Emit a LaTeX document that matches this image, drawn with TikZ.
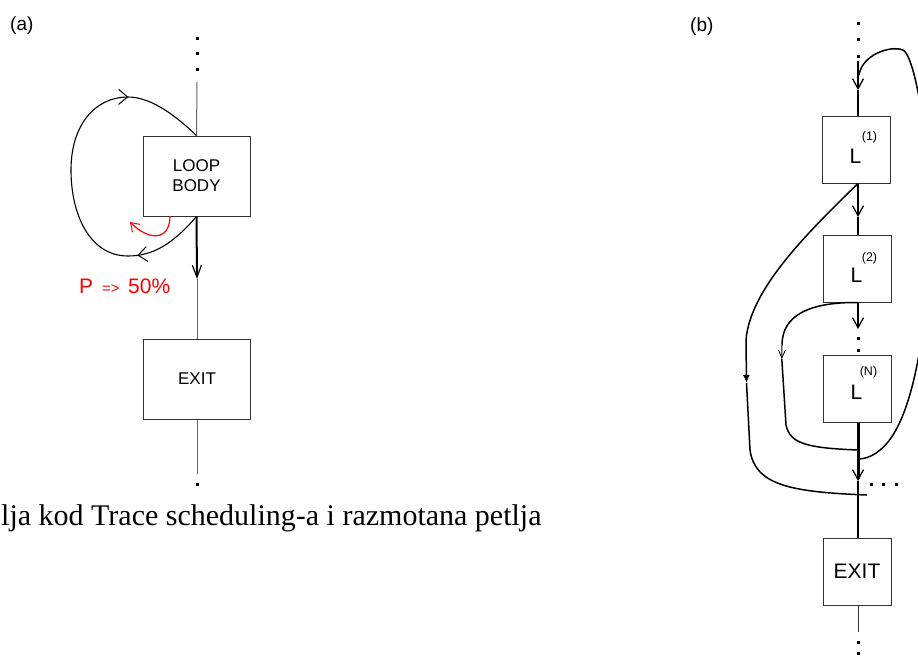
\documentclass[tikz,border=0pt]{standalone}
\usepackage{fontspec}
\setmainfont{Liberation Sans}
\newfontfamily\capfont{Liberation Serif}
\usetikzlibrary{arrows.meta,decorations.markings}

\begin{document}
\begin{tikzpicture}[x=1pt,y=-1pt,
  bigbox/.style={draw=black!80,line width=1pt,minimum width=107pt,minimum height=80pt,
    inner sep=0pt,align=center,font=\fontsize{17}{20}\selectfont},
  ubox/.style={draw=black!80,line width=1pt,minimum width=68pt,minimum height=67pt,inner sep=0pt},
  lname/.style={inner sep=0pt,font=\fontsize{21}{21}\selectfont},
  lsup/.style={inner sep=0pt,font=\fontsize{12.5}{12.5}\selectfont},
  dotmark/.style={fill=black,draw=none,minimum size=3pt,inner sep=0pt,rectangle},
  thinflow/.style={draw=black!60,line width=1pt},
  flowb/.style={draw=black,line width=1.5pt},
  heavy/.style={draw=black,line width=2.5pt},
  barb/.style={-{Straight Barb[length=10pt,width=11pt,line width=1.3pt]}},
  smallbarb/.style={-{Straight Barb[length=8pt,width=7pt,line width=0.8pt]}},
  panel/.style={inner sep=0pt,anchor=base west,font=\fontsize{19}{19}\selectfont},
]
\clip (0,0) rectangle (918,662);

% ---------------- (a) loop with a single body ----------------
\node[panel] (taga) at (10,30) {(a)};

\node[dotmark] (a1) at (197,38) {};
\node[dotmark] (a2) at (197,53) {};
\node[dotmark] (a3) at (197,69) {};
\coordinate (atop) at (197,82);

\node[bigbox] (body) at (196.5,176) {LOOP\\BODY};
\node[bigbox] (exita) at (197,379) {EXIT};

\coordinate (aarr) at (197,279);
\coordinate (aend) at (197,474);
\node[dotmark] (a4) at (197,484) {};

\draw[thinflow] (atop) -- (body.north);
\draw[draw=black,line width=2pt,-{Straight Barb[length=12pt,width=9pt,line width=1.2pt]}] (body.south) -- (aarr);
\draw[thinflow] (aarr) -- (exita.north);
\draw[thinflow] (exita.south) -- (aend);

% back edge of the loop
\draw[black,line width=1.1pt,postaction={decorate},
  decoration={markings,
    mark=at position 0.19 with {\arrow{Straight Barb[length=9pt,width=15pt,line width=1pt]}},
    mark=at position 0.79 with {\arrow{Straight Barb[length=9pt,width=15pt,line width=1pt]}}}]
  (body.south) .. controls (172,245) and (152,256) .. (128,256)
  .. controls (90,256) and (71,215) .. (71,170)
  .. controls (71,125) and (95,97) .. (128,97)
  .. controls (152,97) and (177,117) .. (body.north);

% probability of taking the back edge
\coordinate (rs) at (170,216);
\coordinate (re) at (130,222);
\draw[red,line width=1.2pt,-{Straight Barb[length=8pt,width=11pt,line width=1pt]}]
  (rs) .. controls (170,240) and (150,242) .. (re);
\node[red,inner sep=0pt,anchor=base west] (prob) at (79,293)
  {\fontsize{21}{21}\selectfont P\hspace{9pt}{\fontsize{15}{15}\selectfont =>}\hspace{8.5pt}50\%};

% caption line
\node[inner sep=0pt,anchor=base west,font=\capfont\fontsize{30}{30}\selectfont] (cap) at (1,525)
  {lja kod Trace scheduling-a i razmotana petlja};

% ---------------- (b) unrolled loop ----------------
\node[panel] (tagb) at (690,31) {(b)};

\node[dotmark] (b1) at (858,23) {};
\node[dotmark] (b2) at (858,39) {};
\node[dotmark] (b3) at (858,56) {};
\coordinate (btop) at (858,61);
\coordinate (barr1) at (858,90);

\node[ubox] (l1) at (856,149.5) {};
\node[ubox] (l2) at (857,268.5) {};
\node[ubox] (ln) at (857,388.5) {};
\node[ubox] (exitb) at (857,571.5) {};

\node[lname] (l1t) at (855.5,156) {L};
\node[lsup] (l1s) at (869.5,137) {(1)};
\node[lname] (l2t) at (856.5,275) {L};
\node[lsup] (l2s) at (869.5,258) {(2)};
\node[lname] (lnt) at (856.5,392) {L};
\node[lsup] (lns) at (868.5,372) {(N)};
\node[lname] at (exitb.center) (exitbt) {EXIT};

\coordinate (barr2) at (858,217);
\coordinate (barr3) at (858,329);
\node[dotmark] (b4) at (858,338) {};
\node[dotmark] (b5) at (858,350) {};
\coordinate (barr4) at (858,481);
\coordinate (bend) at (858,632);
\node[dotmark] (b6) at (858,642) {};
\node[dotmark] (b7) at (858,653) {};

\node[dotmark] (c1) at (871,484) {};
\node[dotmark] (c2) at (883,484) {};
\node[dotmark] (c3) at (896,484) {};

% main trace
\draw[draw=black,line width=2.2pt,barb] (btop) -- (barr1);
\draw[flowb] (barr1) -- (l1.north -| barr1);
\draw[heavy,barb] (l1.south -| barr2) -- (barr2);
\draw[flowb] (barr2) -- (l2.north -| barr2);
\draw[flowb,barb] (l2.south -| barr3) -- (barr3);
\draw[draw=black,line width=3pt,barb] (ln.south -| barr4) -- (barr4);
\draw[flowb] (barr4) -- (exitb.north -| barr4);
\draw[draw=black!80,line width=1pt] (exitb.south -| bend) -- (bend);

% exit from the first copy
\coordinate (xo1) at (746,340);
\coordinate (xo2) at (746.5,383);
\coordinate (jn3) at (867,495);
\draw[flowb,-{Latex[length=8pt,width=7pt]}] (l1.south -| barr2) .. controls (805,235) and (750,290) .. (xo1) -- (xo2);
\draw[flowb] (xo2) -- (750,450) .. controls (755,485) and (790,492) .. (jn3);

% exit from the second copy
\coordinate (xi1) at (782,345);
\coordinate (xi2) at (781.8,359);
\coordinate (jn1) at (858,450);
\draw[flowb] (l2.south -| barr3) .. controls (810,302) and (782,315) .. (xi1);
\draw[draw=black,line width=1pt,smallbarb] (xi1) -- (xi2);
\draw[flowb] (xi2) -- (786,425) .. controls (790,443) and (805,448) .. (jn1);

% back edge from the last copy to the first
\coordinate (jtop) at (859,75);
\coordinate (jn2) at (860,459);
\draw[flowb] (jtop) .. controls (862,55) and (890,45) .. (903,50)
  .. controls (920,60) and (935,200) .. (930,260)
  .. controls (925,330) and (915,400) .. (893,435)
  .. controls (882,452) and (870,458) .. (jn2);
\end{tikzpicture}
\end{document}
